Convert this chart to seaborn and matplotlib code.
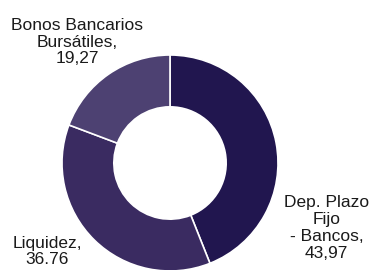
import matplotlib
matplotlib.use("Agg")
import matplotlib.pyplot as plt
from matplotlib import font_manager
import seaborn as sns

# data
categories = ["Dep. Plazo\nFijo\n- Bancos", "Liquidez", "Bonos Bancarios\nBursátiles"]
values = [43.97, 36.76, 19.27]
value_labels = ["43,97", "36.76", "19,27"]
colors = ["#21164f", "#3a2b61", "#4d4172"]

sns.set_theme(style="white")
names = {f.name for f in font_manager.fontManager.ttflist}
family = "Liberation Sans Narrow" if "Liberation Sans Narrow" in names else "Liberation Sans"
plt.rcParams["font.family"] = [family, "DejaVu Sans"]

fig = plt.figure(figsize=(3.69, 2.70), dpi=100)
ax = fig.add_axes([62 / 369, -1 / 270, 216 / 369, 216 / 270])

wedges, _ = ax.pie(values, colors=colors, startangle=90, counterclock=False,
                   wedgeprops=dict(width=0.48, edgecolor="white", linewidth=1.2))
ax.set_xlim(-1, 1)
ax.set_ylim(-1, 1)
ax.set_aspect("equal")
ax.axis("off")

# label positions in data units (pie radius = 1)
label_pos = [(1.45, -0.60), (-1.14, -0.82), (-0.86, 1.12)]
for cat, txt, (x, y) in zip(categories, value_labels, label_pos):
    ax.text(x, y, f"{cat},\n{txt}", ha="center", va="center", fontsize=12.5,
            color="#1a1a1a", linespacing=1.15, clip_on=False)

fig.savefig("out.png", dpi=100)
